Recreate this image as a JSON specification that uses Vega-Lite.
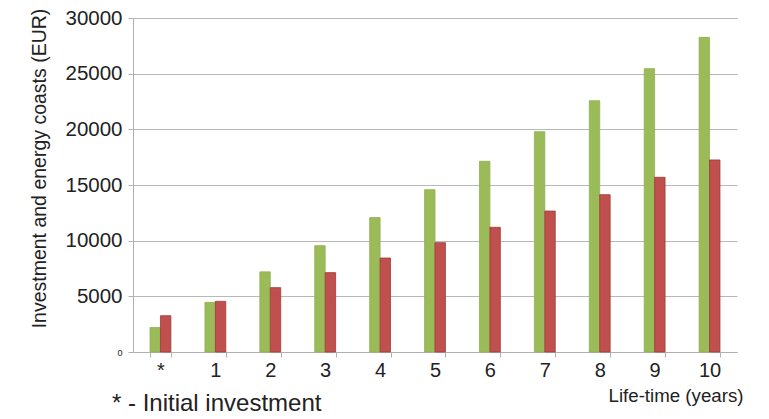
{
  "$schema": "https://vega.github.io/schema/vega-lite/v6.json",
  "width": 604,
  "height": 334,
  "autosize": "none",
  "padding": {"left": 133, "top": 18, "right": 32, "bottom": 67},
  "background": "white",
  "title": {
    "text": "* - Initial investment",
    "orient": "bottom",
    "anchor": "start",
    "frame": "group",
    "dx": -21,
    "offset": -13,
    "fontSize": 24,
    "fontWeight": "normal",
    "font": "Liberation Sans",
    "color": "#222222"
  },
  "data": {
    "values": [
      {"year": "*", "series": "Investment", "cost": 2200},
      {"year": "*", "series": "Energy", "cost": 3260},
      {"year": "1", "series": "Investment", "cost": 4460},
      {"year": "1", "series": "Energy", "cost": 4550},
      {"year": "2", "series": "Investment", "cost": 7200},
      {"year": "2", "series": "Energy", "cost": 5780},
      {"year": "3", "series": "Investment", "cost": 9550},
      {"year": "3", "series": "Energy", "cost": 7130},
      {"year": "4", "series": "Investment", "cost": 12070},
      {"year": "4", "series": "Energy", "cost": 8440},
      {"year": "5", "series": "Investment", "cost": 14580},
      {"year": "5", "series": "Energy", "cost": 9820},
      {"year": "6", "series": "Investment", "cost": 17130},
      {"year": "6", "series": "Energy", "cost": 11200},
      {"year": "7", "series": "Investment", "cost": 19790},
      {"year": "7", "series": "Energy", "cost": 12660},
      {"year": "8", "series": "Investment", "cost": 22570},
      {"year": "8", "series": "Energy", "cost": 14130},
      {"year": "9", "series": "Investment", "cost": 25450},
      {"year": "9", "series": "Energy", "cost": 15690},
      {"year": "10", "series": "Investment", "cost": 28260},
      {"year": "10", "series": "Energy", "cost": 17250}
    ]
  },
  "mark": {"type": "bar", "strokeWidth": 0.8},
  "encoding": {
    "x": {
      "field": "year",
      "type": "nominal",
      "sort": null,
      "scale": {"paddingInner": 0.62, "paddingOuter": 0.31},
      "axis": {
        "title": "Life-time (years)",
        "titleX": 610,
        "titleY": 43,
        "titleAlign": "right",
        "titleBaseline": "middle",
        "titleFontSize": 18.7,
        "titleFontWeight": "normal",
        "labelAngle": 0,
        "labelFontSize": 20,
        "labelPadding": 3,
        "tickBand": "extent",
        "tickSize": 5
      }
    },
    "xOffset": {"field": "series", "sort": ["Investment", "Energy"], "scale": {"paddingInner": 0}},
    "y": {
      "field": "cost",
      "type": "quantitative",
      "scale": {"domain": [0, 30000]},
      "axis": {
        "title": "Investment and energy coasts (EUR)",
        "titleFontSize": 19.5,
        "titleFontWeight": "normal",
        "titleY": 150,
        "titlePadding": 15,
        "values": [0, 5000, 10000, 15000, 20000, 25000, 30000],
        "format": "d",
        "labelFontSize": {"condition": {"test": "datum.value == 0", "value": 9}, "value": 20.5},
        "labelPadding": 6,
        "tickSize": 5,
        "grid": true
      }
    },
    "color": {
      "field": "series",
      "type": "nominal",
      "scale": {"domain": ["Investment", "Energy"], "range": ["#9BBB59", "#C0504D"]},
      "legend": null
    },
    "stroke": {
      "field": "series",
      "type": "nominal",
      "scale": {"domain": ["Investment", "Energy"], "range": ["#8FB050", "#A03A38"]},
      "legend": null
    }
  },
  "config": {
    "font": "Liberation Sans",
    "view": {"stroke": null},
    "axis": {
      "domainColor": "#b0b0b0",
      "tickColor": "#b0b0b0",
      "gridColor": "#b8b8b8",
      "labelColor": "#222222",
      "titleColor": "#222222",
      "labelFont": "Liberation Sans",
      "titleFont": "Liberation Sans"
    }
  }
}
